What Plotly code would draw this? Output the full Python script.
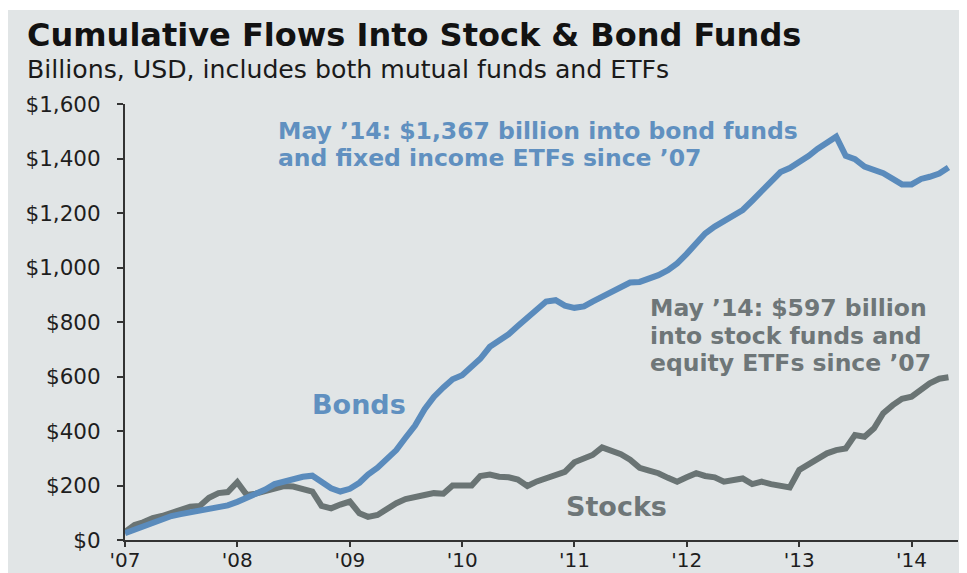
import pandas as pd
import plotly.graph_objects as go

# Monthly cumulative flows, Jan 2007 - May 2014 (billions USD)
months = pd.date_range("2007-01-01", periods=89, freq="MS")

bonds = [25, 38, 50, 62, 78, 88, 95, 102, 106, 112, 120, 127,
         140, 155, 168, 185, 205, 215, 225, 232, 236, 210, 190, 178,
         188, 210, 240, 265, 295, 330, 375, 420, 480, 525, 560, 590,
         605, 635, 665, 709, 730, 755, 785, 815, 844, 875, 880, 860,
         852, 857, 875, 893, 908, 930, 945, 947, 958, 972, 990, 1015,
         1050, 1090, 1125, 1150, 1170, 1195, 1211, 1245, 1280, 1320, 1350, 1365,
         1385, 1410, 1435, 1460, 1480, 1410, 1398, 1370, 1358, 1346, 1325, 1305,
         1305, 1325, 1333, 1345, 1367]

stocks = [30, 55, 65, 80, 88, 100, 108, 122, 125, 155, 172, 176,
          212, 165, 170, 178, 185, 198, 196, 185, 178, 125, 116, 130,
          141, 98, 85, 92, 115, 135, 150, 160, 165, 172, 170, 200,
          198, 200, 235, 240, 232, 230, 222, 198, 215, 226, 240, 250,
          285, 300, 312, 340, 330, 315, 295, 265, 255, 245, 228, 214,
          230, 245, 235, 230, 214, 220, 226, 205, 214, 205, 198, 193,
          257, 280, 295, 318, 330, 336, 385, 379, 410, 465, 495, 518,
          526, 550, 575, 592, 597]

year_ticks = ["2007-01-01", "2008-01-01", "2009-01-01", "2010-01-01",
              "2011-01-01", "2012-01-01", "2013-01-01", "2014-01-01"]
year_labels = ["'07", "'08", "'09", "'10", "'11", "'12", "'13", "'14"]

y_ticks = [0, 200, 400, 600, 800, 1000, 1200, 1400, 1600]
y_labels = ["$0", "$200", "$400", "$600", "$800", "$1,000", "$1,200", "$1,400", "$1,600"]

title_text = "Cumulative Flows Into Stock & Bond Funds"
subtitle_text = "Billions, USD, includes both mutual funds and ETFs"
bond_note = ["May ’14: $1,367 billion into bond funds",
             "and fixed income ETFs since ’07"]
stock_note = ["May ’14: $597 billion",
              "into stock funds and",
              "equity ETFs since ’07"]

BG = "#e1e5e6"
BLUE = "#5a8bbc"
BLUE_TXT = "#6090c0"
GRAY = "#6a7474"
GRAY_TXT = "#6e7678"
FONT = "DejaVu Sans"

fig = go.Figure()
fig.add_trace(go.Scatter(x=months, y=stocks, mode="lines",
                         line=dict(color=GRAY, width=6), hoverinfo="skip"))
fig.add_trace(go.Scatter(x=months, y=bonds, mode="lines",
                         line=dict(color=BLUE, width=6), hoverinfo="skip"))

OFF = 8  # page body margin
W, H = 967 - OFF, 573 - OFF
L, T = 125 - OFF, 104 - OFF
R = W - (958 - OFF)
B = H - (540 - OFF)
pw, ph = W - L - R, H - T - B


def px(xp):  # xp: pixel in the 967x573 window
    return (xp - OFF - L) / pw


def py(yp):
    return (H - B - (yp - OFF)) / ph


fig.add_shape(type="rect", xref="paper", yref="paper",
              x0=px(8), x1=px(980), y0=py(590), y1=py(10),
              fillcolor=BG, line=dict(width=0), layer="below")

ann = []


def note(text, x, top, size, color, bold=True):
    t = f"<b>{text}</b>" if bold else text
    ann.append(dict(text=t, x=px(x), y=py(top),
                    font=dict(size=size, color=color, family=FONT)))


note(title_text, 25, 13.6, 32, "#121212")
note(subtitle_text, 25, 53.3, 25.2, "#1a1a1a", bold=False)
for i, line in enumerate(bond_note):
    note(line, 276, 114.5 + 27.5 * i, 23.5, BLUE_TXT)
for i, line in enumerate(stock_note):
    note(line, 648, 292 + 27.5 * i, 23.5, GRAY_TXT)
note("Bonds", 310, 387, 27, BLUE_TXT)
note("Stocks", 564, 488.5, 27, GRAY_TXT)

for a in ann:
    a.update(xref="paper", yref="paper", xanchor="left", yanchor="top",
             showarrow=False, align="left")

fig.update_layout(
    width=W, height=H,
    margin=dict(l=L, r=R, t=T, b=B, pad=0, autoexpand=False),
    paper_bgcolor="white",
    plot_bgcolor=BG,
    showlegend=False,
    annotations=ann,
    font=dict(family=FONT, size=21, color="#1e1e1e"),
)
fig.update_xaxes(
    type="date", range=["2007-01-01", "2014-06-01"],
    tickmode="array", tickvals=year_ticks, ticktext=year_labels,
    showgrid=False, zeroline=False, automargin=False,
    showline=True, linecolor="#333333", linewidth=2,
    ticks="outside", ticklen=5, tickwidth=2, tickcolor="#333333",
    tickfont=dict(size=20, family=FONT, color="#1e1e1e"),
    ticklabelstandoff=-4,
)
fig.update_yaxes(
    range=[0, 1600],
    tickmode="array", tickvals=y_ticks, ticktext=y_labels,
    showgrid=False, zeroline=False, automargin=False,
    showline=True, linecolor="#333333", linewidth=2,
    ticks="outside", ticklen=6, tickwidth=2, tickcolor="#333333",
    tickfont=dict(size=21.5, family=FONT, color="#1e1e1e"),
    ticklabelstandoff=12,
)

fig.write_html("out.html")
